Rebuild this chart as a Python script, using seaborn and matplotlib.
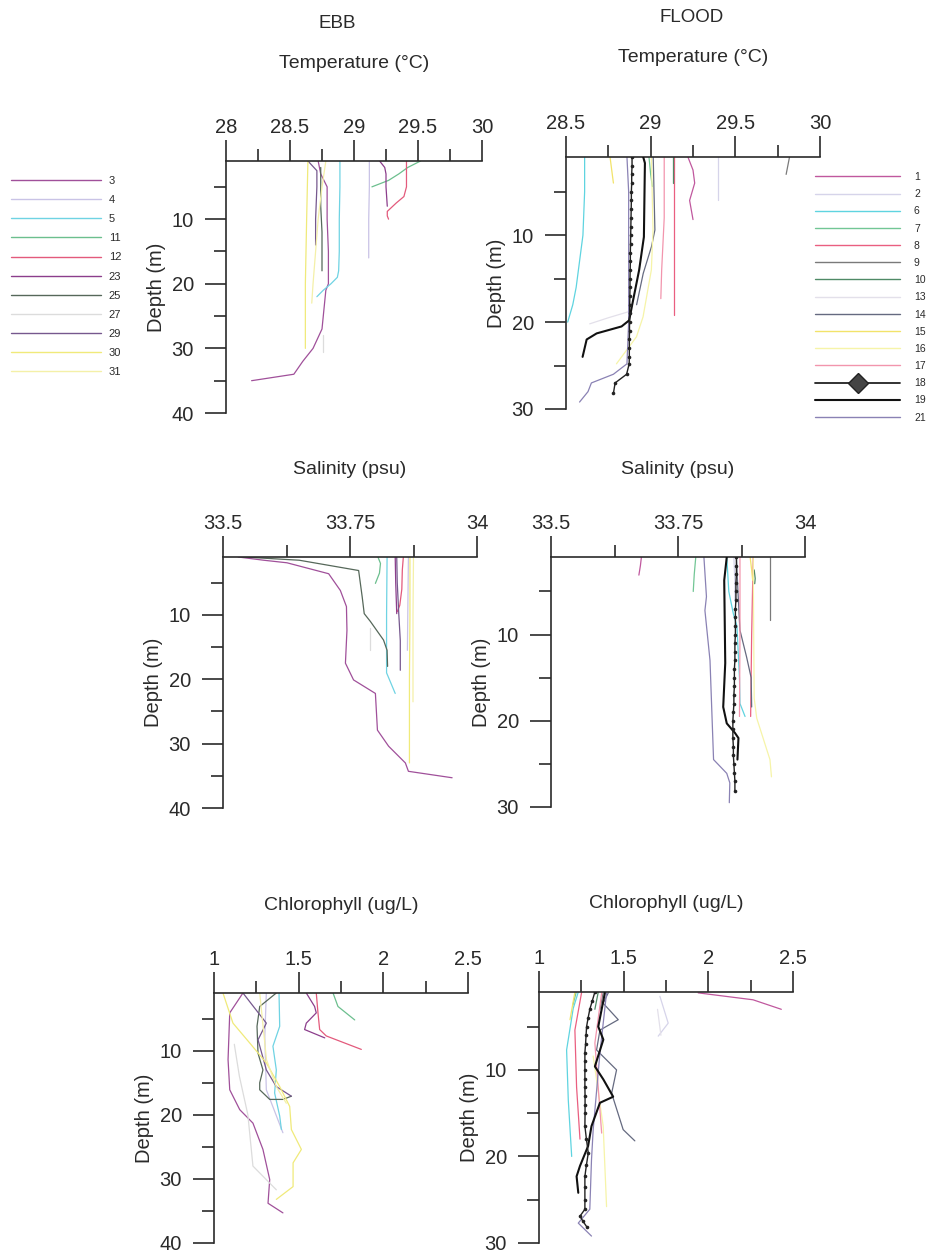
import matplotlib
matplotlib.use("Agg")
import matplotlib.pyplot as plt
import seaborn as sns
import pandas as pd
from matplotlib.lines import Line2D
from matplotlib.ticker import MultipleLocator, FuncFormatter

# ---------------- stations / colours ----------------
EBB_STATIONS = ["3", "4", "5", "11", "12", "23", "25", "27", "29", "30", "31"]
FLOOD_STATIONS = ["1", "2", "6", "7", "8", "9", "10", "13", "14", "15", "16",
                  "17", "18", "19", "21"]

EBB_COLORS = {"3": "#a0509a", "4": "#c9c3e6", "5": "#6fd3e3", "11": "#6cbf8e",
              "12": "#e35a7c", "23": "#8c3e8c", "25": "#56685a", "27": "#dcdcdc",
              "29": "#76588e", "30": "#f0ea7a", "31": "#f4f0a8"}
FLOOD_COLORS = {"1": "#c0589e", "2": "#d6d4ea", "6": "#5fd4e0", "7": "#72c695",
                "8": "#ea5f80", "9": "#7a7a7a", "10": "#4f8a66", "13": "#e3e0ea",
                "14": "#656a80", "15": "#f2e36a", "16": "#f6f4a8", "17": "#f295ad",
                "18": "#222222", "19": "#111111", "21": "#8a82b4"}

# ---------------- profiles: station -> (depths, values) ----------------
EBB_TEMP = {
    "3": ([1, 3, 5, 10, 15, 20, 21, 25, 27, 30, 32, 34, 35],
          [28.72, 28.74, 28.79, 28.79, 28.8, 28.8, 28.78, 28.76, 28.75, 28.68, 28.6, 28.53, 28.2]),
    "4": ([1, 5, 10, 16], [29.12, 29.12, 29.115, 29.115]),
    "5": ([1, 5, 10, 15, 18, 19, 20, 21, 22],
          [28.89, 28.89, 28.885, 28.885, 28.88, 28.87, 28.82, 28.76, 28.71]),
    "11": ([1, 2, 3, 4, 5], [29.52, 29.42, 29.35, 29.27, 29.14]),
    "12": ([1, 3, 5, 6.5, 7.5, 8.8, 9.5, 10], [29.41, 29.41, 29.41, 29.39, 29.33, 29.26, 29.26, 29.27]),
    "23": ([1, 2, 3, 5, 8], [29.2, 29.24, 29.25, 29.25, 29.26]),
    "25": ([2, 5, 8, 10, 12, 15, 18], [28.74, 28.74, 28.74, 28.745, 28.75, 28.75, 28.75]),
    "27": ([28, 30.5], [28.76, 28.76]),
    "29": ([1, 2.5, 5, 10, 14], [28.64, 28.71, 28.71, 28.7, 28.7]),
    "30": ([1, 10, 20, 30], [28.64, 28.63, 28.62, 28.62]),
    "31": ([1, 5, 10, 15, 20, 23], [28.78, 28.75, 28.72, 28.7, 28.68, 28.67]),
}

FLOOD_TEMP = {
    "1": ([1, 2.5, 4, 6, 8.2], [29.22, 29.25, 29.26, 29.23, 29.25]),
    "2": ([1, 3, 6], [29.4, 29.4, 29.4]),
    "6": ([1, 5, 10, 13, 16, 18, 20], [28.61, 28.61, 28.6, 28.58, 28.56, 28.54, 28.51]),
    "7": ([1, 3, 4.4], [28.99, 29.0, 29.01]),
    "8": ([1, 5, 10, 15, 19.2], [29.14, 29.14, 29.14, 29.14, 29.14]),
    "9": ([1, 2, 3], [29.82, 29.81, 29.8]),
    "10": ([1, 2.5, 4], [29.13, 29.13, 29.13]),
    "13": ([18.8, 19.5, 20.2], [28.87, 28.75, 28.64]),
    "14": ([1, 9.4, 11.3, 14.4, 18], [29.015, 29.025, 29.005, 28.956, 28.917]),
    "15": ([1, 2.5, 4], [28.76, 28.77, 28.78]),
    "16": ([1, 9.4, 14, 19.4, 21.7, 24.8], [29.004, 29.014, 29.004, 28.955, 28.916, 28.798]),
    "17": ([1, 8, 14, 17.3], [29.08, 29.08, 29.065, 29.06]),
    "18": ([1, 2, 3, 4, 5, 6, 7, 8, 9, 10, 11, 12, 13, 14, 15, 16, 17, 18, 19, 20,
            21, 22, 23, 24, 24.8, 26, 27, 28.2],
           [28.89, 28.89, 28.888, 28.888, 28.886, 28.886, 28.885, 28.884, 28.883, 28.882,
            28.881, 28.88, 28.88, 28.879, 28.878, 28.878, 28.877, 28.876, 28.876, 28.875,
            28.875, 28.874, 28.874, 28.874, 28.873, 28.858, 28.79, 28.78]),
    "19": ([1, 1.7, 10.2, 14, 17.8, 19.8, 20.5, 21.3, 22, 24],
           [28.956, 28.966, 28.96, 28.932, 28.893, 28.873, 28.828, 28.681, 28.622, 28.598]),
    "21": ([1, 5, 10, 15, 20, 24.8, 26, 27, 28, 29.2],
           [28.86, 28.87, 28.87, 28.87, 28.87, 28.86, 28.78, 28.65, 28.63, 28.58]),
}

EBB_SAL = {
    "3": ([1, 1.5, 1.9, 3.6, 6.2, 8.7, 12.4, 17.5, 20.1, 22.2, 27.9, 30.4, 33, 34.3, 35.3],
          [33.53, 33.58, 33.626, 33.708, 33.731, 33.743, 33.744, 33.741, 33.757, 33.800,
           33.804, 33.826, 33.859, 33.865, 33.951]),
    "4": ([1, 8, 15.5], [33.865, 33.864, 33.863]),
    "5": ([1, 10, 19, 20.5, 22.2], [33.823, 33.822, 33.822, 33.83, 33.839]),
    "11": ([1, 2, 3.5, 5.1], [33.805, 33.81, 33.808, 33.8]),
    "12": ([1, 3, 6, 8.5, 9.5], [33.855, 33.853, 33.852, 33.848, 33.843]),
    "23": ([1, 5, 9.8], [33.839, 33.84, 33.842]),
    "25": ([1, 1.5, 3.1, 7.2, 9.8, 11, 13.9, 15.5, 18],
           [33.54, 33.65, 33.767, 33.774, 33.778, 33.79, 33.816, 33.823, 33.824]),
    "27": ([12, 15.5], [33.79, 33.79]),
    "29": ([1, 5, 9.8, 14, 18.6], [33.842, 33.843, 33.846, 33.849, 33.849]),
    "30": ([1, 10, 20, 33], [33.868, 33.868, 33.867, 33.867]),
    "31": ([1, 10, 20, 23.5], [33.875, 33.874, 33.874, 33.874]),
}

FLOOD_SAL = {
    "1": ([1, 2, 3.1], [33.678, 33.676, 33.673]),
    "2": ([1, 4, 6], [33.86, 33.862, 33.862]),
    "6": ([1, 5, 7.6, 9, 15, 18, 19.5], [33.846, 33.85, 33.859, 33.866, 33.871, 33.872, 33.882]),
    "7": ([1, 3, 5], [33.785, 33.782, 33.78]),
    "8": ([1, 10, 19.5], [33.898, 33.895, 33.893]),
    "9": ([1, 5, 8.3], [33.931, 33.931, 33.931]),
    "10": ([2.5, 3.5, 4.1], [33.9, 33.902, 33.901]),
    "13": ([6, 9], [33.87, 33.871]),
    "14": ([1, 5, 9.5, 12.6, 15, 18.4], [33.865, 33.868, 33.872, 33.885, 33.894, 33.895]),
    "15": ([1, 2.5, 3.7], [33.892, 33.895, 33.897]),
    "16": ([1, 10, 17.4, 19.7, 24.5, 26.5], [33.898, 33.899, 33.9, 33.905, 33.931, 33.934]),
    "17": ([1, 10, 19.5], [33.872, 33.872, 33.871]),
    "18": ([1, 2, 3, 4, 5, 6, 7, 8, 9, 10, 11, 12, 13, 14, 15, 16, 17, 18, 19, 20,
            21, 22, 23, 24, 25, 26, 27, 28.2],
           [33.865, 33.865, 33.865, 33.864, 33.864, 33.864, 33.863, 33.863, 33.863, 33.863,
            33.862, 33.862, 33.862, 33.861, 33.861, 33.861, 33.86, 33.86, 33.859, 33.858,
            33.858, 33.858, 33.859, 33.859, 33.86, 33.861, 33.862, 33.862]),
    "19": ([1, 3.7, 13.3, 18.4, 20.3, 21.4, 22, 24.5],
           [33.846, 33.841, 33.843, 33.839, 33.846, 33.862, 33.869, 33.867]),
    "21": ([1, 5.6, 7.2, 13, 24.5, 26.1, 27.2, 29.5],
           [33.801, 33.806, 33.803, 33.813, 33.82, 33.846, 33.852, 33.851]),
}

EBB_CHL = {
    "3": ([1, 4.1, 11.4, 16.1, 19.2, 21.3, 25.4, 30.1, 33.8, 35.3],
          [1.171, 1.093, 1.083, 1.093, 1.152, 1.230, 1.289, 1.329, 1.319, 1.407]),
    "4": ([1, 7.8, 16.1, 22.8], [1.309, 1.3, 1.309, 1.407]),
    "5": ([1, 6.2, 9.3, 13, 16.6, 20.2, 22.3], [1.384, 1.388, 1.348, 1.368, 1.358, 1.388, 1.398]),
    "11": ([1, 3.1, 5.2], [1.703, 1.732, 1.831]),
    "12": ([1, 4.1, 6.7, 7.7, 9.8], [1.604, 1.614, 1.624, 1.663, 1.870]),
    "23": ([1, 3.1, 4.1, 5.7, 6.7, 8], [1.545, 1.594, 1.604, 1.545, 1.535, 1.654]),
    "25": ([1, 3.1, 6.2, 10.4, 13, 15, 16.1, 17.6, 17.6, 17.1],
           [1.368, 1.27, 1.254, 1.26, 1.289, 1.27, 1.27, 1.329, 1.407, 1.457]),
    "27": ([9, 14, 20, 28, 31.7], [1.12, 1.15, 1.2, 1.23, 1.368]),
    "29": ([1, 5.7, 8.3, 13, 15.6, 17.1], [1.171, 1.309, 1.26, 1.309, 1.368, 1.457]),
    "30": ([1, 5.7, 8.8, 11.9, 15.6, 18.7, 22.3, 25.4, 27.5, 31.2, 33.2],
           [1.053, 1.112, 1.211, 1.309, 1.388, 1.447, 1.457, 1.516, 1.467, 1.467, 1.368]),
    "31": ([1, 6.2, 11.4, 15.6, 18.2], [1.27, 1.29, 1.31, 1.368, 1.427]),
}

FLOOD_CHL = {
    "1": ([1.1, 1.9, 3.0], [1.94, 2.264, 2.431]),
    "2": ([1.5, 4.6, 6.1], [1.714, 1.763, 1.704]),
    "6": ([1, 2.9, 7.7, 13.5, 20], [1.232, 1.202, 1.163, 1.173, 1.193]),
    "7": ([1, 2.5], [1.22, 1.2]),
    "8": ([1, 5.4, 12, 18], [1.252, 1.212, 1.222, 1.242]),
    "9": ([1, 3], [1.38, 1.36]),
    "10": ([1, 3], [1.35, 1.33]),
    "13": ([3, 6], [1.7, 1.72]),
    "14": ([1.1, 2.3, 4.2, 5.4, 7.7, 10, 12.7, 16.9, 18.2],
           [1.409, 1.379, 1.468, 1.36, 1.34, 1.458, 1.429, 1.497, 1.566]),
    "15": ([1, 4.2], [1.212, 1.183]),
    "16": ([8.4, 16.5, 25.8], [1.32, 1.379, 1.399]),
    "17": ([1.1, 6.9, 17.3], [1.37, 1.33, 1.37]),
    "18": ([1, 2, 3, 4, 5, 6, 7, 8, 9, 10, 11, 12, 13, 14, 15, 16.5, 18, 19.6, 21, 22.3,
            23.5, 25, 26.1, 26.9, 27.5, 28.1],
           [1.33, 1.315, 1.30, 1.29, 1.281, 1.278, 1.275, 1.271, 1.271, 1.271, 1.271, 1.271,
            1.272, 1.272, 1.272, 1.271, 1.28, 1.291, 1.28, 1.271, 1.271, 1.271, 1.271, 1.242,
            1.26, 1.281]),
    "19": ([1.1, 5, 6.5, 9.6, 11.1, 13.1, 13.8, 16.5, 18.8, 21.1, 22.3, 24.2],
           [1.389, 1.35, 1.38, 1.33, 1.38, 1.438, 1.36, 1.31, 1.29, 1.242, 1.222, 1.232]),
    "21": ([1.1, 8, 16.9, 20.4, 26.1, 27.7, 29.2], [1.399, 1.36, 1.32, 1.31, 1.30, 1.232, 1.31]),
}

# ---------------- figure ----------------
sns.set_theme(style="ticks")
plt.rcParams["font.family"] = ["Liberation Sans", "DejaVu Sans"]

W, H = 927, 1257
fig = plt.figure(figsize=(W / 100, H / 100), dpi=100)
fig.patch.set_facecolor("white")

INK = "#2a2a2a"


def fx(px):
    return px / W


def fy(py):
    return 1 - py / H


def to_frame(profiles):
    rows = []
    for st, (ds, vs) in profiles.items():
        for d, v in zip(ds, vs):
            rows.append({"station": st, "depth": d, "value": v})
    return pd.DataFrame(rows)


panels = [
    dict(data=EBB_TEMP, colors=EBB_COLORS, box=(226, 161, 256, 252), xlim=(28, 30),
         xmaj=0.5, ylim=(40, 1), title="Temperature (°C)", ty=63),
    dict(data=FLOOD_TEMP, colors=FLOOD_COLORS, box=(566, 157, 254, 252), xlim=(28.5, 30),
         xmaj=0.5, ylim=(30, 1), title="Temperature (°C)", ty=58),
    dict(data=EBB_SAL, colors=EBB_COLORS, box=(223, 557, 254, 251), xlim=(33.5, 34),
         xmaj=0.25, ylim=(40, 1), title="Salinity (psu)", ty=470),
    dict(data=FLOOD_SAL, colors=FLOOD_COLORS, box=(551, 557, 254, 250), xlim=(33.5, 34),
         xmaj=0.25, ylim=(30, 1), title="Salinity (psu)", ty=470),
    dict(data=EBB_CHL, colors=EBB_COLORS, box=(214, 993, 254, 250), xlim=(1, 2.5),
         xmaj=0.5, ylim=(40, 1), title="Chlorophyll (ug/L)", ty=905),
    dict(data=FLOOD_CHL, colors=FLOOD_COLORS, box=(539, 992, 254, 251), xlim=(1, 2.5),
         xmaj=0.5, ylim=(30, 1), title="Chlorophyll (ug/L)", ty=903),
]

fmt = FuncFormatter(lambda v, p: f"{v:g}")

for p in panels:
    l, t, w, h = p["box"]
    ax = fig.add_axes([fx(l), fy(t + h), w / W, h / H])
    df = to_frame(p["data"])
    for st in p["data"]:
        sub = df[df["station"] == st]
        c = p["colors"][st]
        kw = dict(linewidth=0.9, zorder=2)
        if st == "18":
            kw = dict(linewidth=1.0, marker="o", markersize=2.6, markeredgewidth=0,
                      zorder=4)
        elif st == "19":
            kw = dict(linewidth=1.5, zorder=3)
        sns.lineplot(data=sub, x="value", y="depth", sort=False, estimator=None,
                     color=c, ax=ax, legend=False, **kw)
    ax.set_xlim(*p["xlim"])
    ax.set_ylim(*p["ylim"])
    ax.set_xlabel("")
    ax.set_ylabel("Depth (m)", fontsize=14.5, color=INK)
    ax.yaxis.set_label_coords(-60 / w, 0.5)
    ax.xaxis.set_major_locator(MultipleLocator(p["xmaj"]))
    ax.xaxis.set_minor_locator(MultipleLocator(p["xmaj"] / 2))
    ax.xaxis.set_major_formatter(fmt)
    ax.yaxis.set_major_locator(MultipleLocator(10))
    ax.yaxis.set_minor_locator(MultipleLocator(5))
    ax.yaxis.set_major_formatter(fmt)
    ax.xaxis.tick_top()
    ax.xaxis.set_label_position("top")
    for s in ["right", "bottom"]:
        ax.spines[s].set_visible(False)
    for s in ["top", "left"]:
        ax.spines[s].set_linewidth(1.2)
        ax.spines[s].set_color(INK)
    ax.tick_params(axis="both", which="major", length=15, width=1.2, color=INK,
                   labelcolor=INK, labelsize=14.5, direction="out")
    ax.tick_params(axis="both", which="minor", length=9, width=1.2, color=INK,
                   direction="out")
    ax.tick_params(axis="x", which="both", top=True, bottom=False, labeltop=True,
                   labelbottom=False, pad=2.5)
    ax.tick_params(axis="y", which="major", pad=8)
    ax.grid(False)
    ax.patch.set_alpha(0)
    fig.text(fx(l + w / 2), fy(p["ty"]), p["title"], ha="center", va="center",
             fontsize=14, color=INK)

fig.text(fx(337), fy(23), "EBB", ha="center", va="center", fontsize=13.5, color=INK)
fig.text(fx(692), fy(18), "FLOOD", ha="center", va="center", fontsize=13.5, color=INK)


def make_handles(stations, colors):
    hs = []
    for st in stations:
        if st == "18":
            hs.append(Line2D([], [], color=colors[st], lw=1.3, marker="D",
                             markersize=10, markerfacecolor="#444444",
                             markeredgecolor="#222222"))
        elif st == "19":
            hs.append(Line2D([], [], color=colors[st], lw=1.5))
        else:
            hs.append(Line2D([], [], color=colors[st], lw=1.0))
    return hs


leg1 = fig.legend(make_handles(EBB_STATIONS, EBB_COLORS), EBB_STATIONS,
                  loc="upper left", bbox_to_anchor=(fx(11), fy(176)), frameon=False,
                  fontsize=8, handlelength=8.1, handletextpad=0.7, labelspacing=0.82,
                  borderaxespad=0, borderpad=0)
for txt in leg1.get_texts():
    txt.set_color(INK)

leg2 = fig.legend(make_handles(FLOOD_STATIONS, FLOOD_COLORS), FLOOD_STATIONS,
                  loc="upper left", bbox_to_anchor=(fx(815), fy(172)), frameon=False,
                  fontsize=7.5, handlelength=8.2, handletextpad=1.3, labelspacing=0.69,
                  borderaxespad=0, borderpad=0)
for txt in leg2.get_texts():
    txt.set_color(INK)

fig.savefig("out.png", dpi=100, facecolor="white")
